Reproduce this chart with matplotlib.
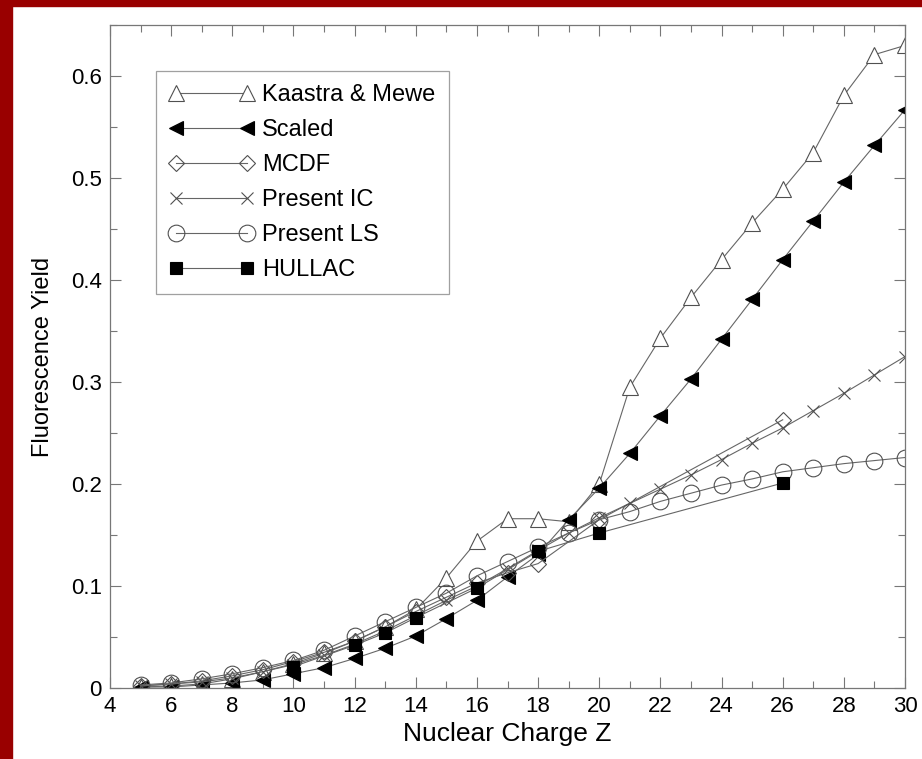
import matplotlib
matplotlib.use("Agg")
import matplotlib.pyplot as plt
from matplotlib.patches import Rectangle
from matplotlib.ticker import MultipleLocator

# fluorescence yields vs nuclear charge
z_all = list(range(5, 31))

kaastra = [0.001, 0.002, 0.004, 0.009, 0.016, 0.024, 0.034, 0.046, 0.060, 0.077,
           0.108, 0.144, 0.166, 0.166, 0.163, 0.200, 0.295, 0.343, 0.383, 0.420,
           0.456, 0.489, 0.525, 0.581, 0.621, 0.630]

scaled = [0.001, 0.001, 0.003, 0.005, 0.008, 0.014, 0.020, 0.029, 0.039, 0.051,
          0.068, 0.086, 0.109, 0.131, 0.165, 0.196, 0.230, 0.267, 0.303, 0.342,
          0.381, 0.420, 0.458, 0.496, 0.532, 0.567]

z_mcdf = [5, 6, 7, 8, 9, 10, 11, 12, 13, 14, 15, 16, 17, 18, 20, 26]
mcdf = [0.002, 0.004, 0.007, 0.012, 0.018, 0.026, 0.035, 0.046, 0.060, 0.075,
        0.089, 0.103, 0.113, 0.122, 0.165, 0.263]

present_ic = [0.002, 0.004, 0.006, 0.010, 0.016, 0.023, 0.032, 0.043, 0.056, 0.071,
              0.086, 0.100, 0.117, 0.135, 0.152, 0.167, 0.181, 0.195, 0.209, 0.224,
              0.240, 0.255, 0.272, 0.289, 0.307, 0.325]

present_ls = [0.003, 0.005, 0.009, 0.014, 0.020, 0.027, 0.037, 0.051, 0.065, 0.079,
              0.093, 0.110, 0.124, 0.138, 0.152, 0.165, 0.173, 0.183, 0.191, 0.199,
              0.205, 0.212, 0.216, 0.220, 0.223, 0.226]

z_hullac = [10, 12, 13, 14, 16, 18, 20, 26]
hullac = [0.021, 0.042, 0.054, 0.069, 0.098, 0.134, 0.152, 0.201]

plt.rcParams["font.family"] = ["Liberation Sans", "DejaVu Sans"]

fig = plt.figure(figsize=(9.22, 7.59), dpi=100)
ax = fig.add_axes([0.1193, 0.0935, 0.8623, 0.8735])

line_col = "#666666"
edge = "#505050"
common = dict(color=line_col, lw=0.8, mew=0.8)

ax.plot(z_all, kaastra, marker="^", ms=11, mfc="white", mec=edge,
        label="Kaastra & Mewe", **common)
ax.plot(z_all, scaled, marker="<", ms=10, mfc="black", mec="black",
        label="Scaled", **common)
ax.plot(z_mcdf, mcdf, marker="D", ms=8, mfc="none", mec=edge,
        label="MCDF", **common)
ax.plot(z_all, present_ic, marker="x", ms=9, mec=edge,
        label="Present IC", **common)
ax.plot(z_all, present_ls, marker="o", ms=12, mfc="none", mec=edge,
        label="Present LS", **common)
ax.plot(z_hullac, hullac, marker="s", ms=8, mfc="black", mec="black",
        label="HULLAC", **common)

ax.set_xlim(4, 30)
ax.set_ylim(0, 0.65)
ax.xaxis.set_major_locator(MultipleLocator(2))
ax.xaxis.set_minor_locator(MultipleLocator(1))
ax.yaxis.set_minor_locator(MultipleLocator(0.05))
ax.set_yticks([0, 0.1, 0.2, 0.3, 0.4, 0.5, 0.6])
ax.set_yticklabels(["0", "0.1", "0.2", "0.3", "0.4", "0.5", "0.6"])

ax.tick_params(which="both", direction="in", top=True, right=True,
               color="#777777", width=0.8, labelsize=16, pad=6)
ax.tick_params(which="major", length=8)
ax.tick_params(which="minor", length=5)
for sp in ax.spines.values():
    sp.set_color("#777777")
    sp.set_linewidth(0.9)

ax.set_xlabel("Nuclear Charge Z", fontsize=19, labelpad=3)
ax.set_ylabel("Fluorescence Yield", fontsize=17, labelpad=12)

leg = ax.legend(loc="upper left", bbox_to_anchor=(0.058, 0.93), numpoints=2,
                handlelength=3.6, handletextpad=0.35, labelspacing=0.55,
                fontsize=17, frameon=True, fancybox=False, borderpad=0.55,
                borderaxespad=0)
leg.get_frame().set_edgecolor("#888888")
leg.get_frame().set_linewidth(0.9)

# dark red border strips on the left and top edges
fig.patches.append(Rectangle((0, 0), 12 / 922, 1, transform=fig.transFigure,
                             color="#990000", zorder=10))
fig.patches.append(Rectangle((0, 1 - 6 / 759), 1, 6 / 759, transform=fig.transFigure,
                             color="#990000", zorder=10))

fig.savefig("out.png", dpi=100)
